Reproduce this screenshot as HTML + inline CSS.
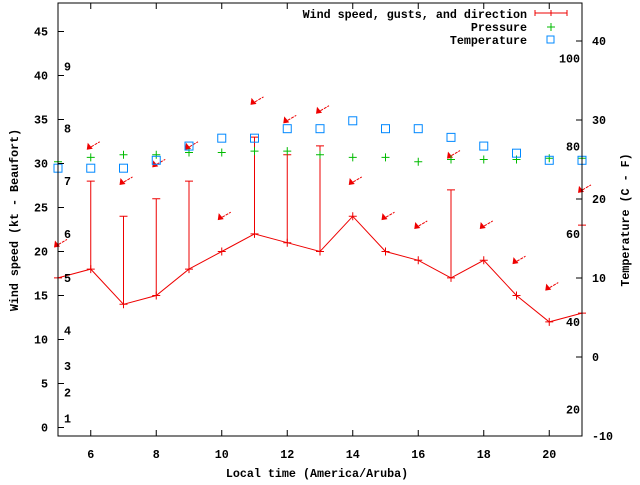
<!DOCTYPE html>
<html><head><meta charset="utf-8"><style>
body{margin:0;background:#fff}
svg text{font-family:"Liberation Mono",monospace;font-weight:bold;font-size:11.7px;fill:#000}
</style></head><body>
<svg id="chart" width="640" height="480" viewBox="0 0 640 480" xmlns="http://www.w3.org/2000/svg">
<g id="grid"></g>
<g id="marks"></g>
<g id="axes"></g>
<text x="317" y="477" text-anchor="middle">Local time (America/Aruba)</text>
<text transform="translate(18,220) rotate(-90)" text-anchor="middle">Wind speed (kt - Beaufort)</text>
<text transform="translate(629,220) rotate(-90)" text-anchor="middle">Temperature (C - F)</text>
<g>
<text x="527" y="18" text-anchor="end">Wind speed, gusts, and direction</text>
<path d="M535,13H567M535,10V16M567,10V16M551,10V16" stroke="#e00" fill="none"/>
<text x="527" y="31" text-anchor="end">Pressure</text>
<path d="M547,27H555M551,23V31" stroke="#0b0" fill="none"/>
<text x="527" y="44" text-anchor="end">Temperature</text>
<rect x="547" y="36" width="7" height="7" stroke="#08f" fill="none"/>
</g>
</svg>
<script>
const hours=[5,6,7,8,9,10,11,12,13,14,15,16,17,18,19,20,21];
const windSpeed=[17,18,14,15,18,20,22,21,20,24,20,19,17,19,15,12,13];
const windGust=[null,28,24,26,28,null,33,31,32,null,null,null,27,null,null,null,23];
const arrowLevel=[20.8,31.9,27.9,29.9,31.9,23.9,37.0,34.9,36.0,27.9,23.9,22.9,30.9,22.9,18.9,15.9,27.0];
const pressure=[30.2,30.7,31.0,31.0,31.25,31.25,31.4,31.4,31.0,30.7,30.7,30.2,30.45,30.45,30.45,30.6,30.6];
const temperatureC=[23.9,23.9,23.9,24.9,26.7,27.7,27.7,28.9,28.9,29.9,28.9,28.9,27.8,26.7,25.8,24.9,24.9];
const xTicks=[6,8,10,12,14,16,18,20];
const yTicks=[0,5,10,15,20,25,30,35,40,45];
const y2Ticks=[-10,0,10,20,30,40];
const fTicks=[20,40,60,80,100];
const beaufort=[1,2,3,4,5,6,7,8,9];
const beaufortKt=[1,4,7,11,17,22,28,34,41];

const L=58,R=582,T=3,B=436;
const X=v=>L+(v-5)*(R-L)/16;
const Y=v=>427.5-v*8.8;
const YC=c=>357-c*7.9;
const NS="http://www.w3.org/2000/svg";
function mk(tag,attrs,parent){const e=document.createElementNS(NS,tag);for(const k in attrs)e.setAttribute(k,attrs[k]);document.getElementById(parent).appendChild(e);return e;}

const ax=mk('rect',{x:L,y:T,width:R-L,height:B-T,fill:'none',stroke:'#000'},'axes');


xTicks.forEach(t=>{const x=X(t);
 const p=mk('path',{d:`M${x},${B}v-6M${x},${T}v6`,stroke:'#000'},'axes');
 
 
 const tx=mk('text',{x:x,y:458,'text-anchor':'middle'},'axes');tx.textContent=t;
 
 });
yTicks.forEach(t=>{const y=Y(t);
 const p=mk('path',{d:`M${L},${y}h6`,stroke:'#000'},'axes');
 
 
 const tx=mk('text',{x:48,y:y+4,'text-anchor':'end'},'axes');tx.textContent=t;
 
 });
y2Ticks.forEach(t=>{const y=YC(t);
 const p=mk('path',{d:`M${R},${y}h-6`,stroke:'#000'},'axes');
 
 
 const tx=mk('text',{x:592,y:y+4},'axes');tx.textContent=t;
 
 });
fTicks.forEach(f=>{const y=YC((f-32)/1.8);
 const tx=mk('text',{x:580,y:y+4,'text-anchor':'end'},'axes');tx.textContent=f;
 
 });
beaufort.forEach((b,i)=>{const tx=mk('text',{x:64,y:Y(beaufortKt[i])+4},'axes');tx.textContent=b;
 
 });

// wind line
const line=mk('polyline',{points:hours.map((h,i)=>X(h)+','+Y(windSpeed[i])).join(' '),fill:'none',stroke:'#e00'},'marks');


hours.forEach((h,i)=>{const x=X(h),y=Y(windSpeed[i]);
 const p=mk('path',{d:`M${x-4},${y}h8M${x},${y-4}v8`,stroke:'#e00'},'marks');
 
 
 if(windGust[i]!==null){const g=Y(windGust[i]);
  const e=mk('path',{d:`M${x},${y}V${g}M${x-4},${g}h8`,stroke:'#e00'},'marks');
  
  }
 const ay=Y(arrowLevel[i]);
 const a=mk('g',{},'marks');
 
 
 const t=document.createElementNS(NS,'path');t.setAttribute('d',`M${x-3},${ay+2}L${x+9},${ay-5}`);t.setAttribute('stroke','#e00');t.setAttribute('stroke-dasharray','3,1');a.appendChild(t);
 const hd=document.createElementNS(NS,'path');hd.setAttribute('d',`M${x-4},${ay+3}L${x-3},${ay-4}L${x+2},${ay+2}Z`);hd.setAttribute('fill','#e00');a.appendChild(hd);
 const pp=mk('path',{d:`M${x-4},${Y(pressure[i])}h8M${x},${Y(pressure[i])-4}v8`,stroke:'#0b0'},'marks');
 
 
 const r=mk('rect',{x:x-4,y:YC(temperatureC[i])-4,width:8,height:8,fill:'none',stroke:'#08f'},'marks');
 
 
});
</script>
</body></html>
